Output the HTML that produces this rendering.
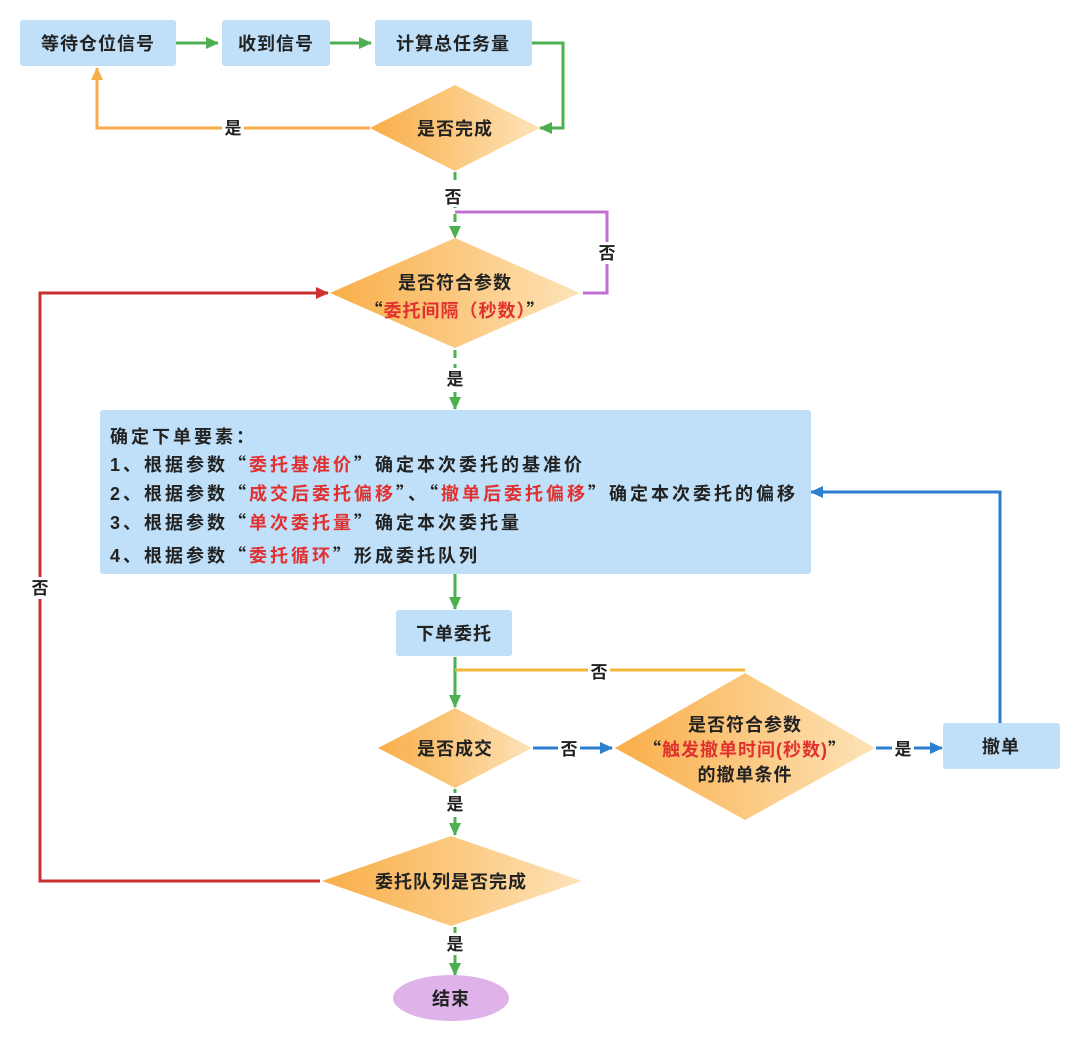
<!DOCTYPE html>
<html><head><meta charset="utf-8"><style>
body{margin:0;background:#fff;}
text{font-family:"Liberation Sans","Noto Sans CJK SC",sans-serif;font-weight:bold;fill:#222;}
.q{font-family:"Noto Sans CJK SC",sans-serif;}
</style></head><body>
<svg width="1080" height="1042" viewBox="0 0 1080 1042" xmlns="http://www.w3.org/2000/svg">
<defs>
<linearGradient id="g" x1="0" y1="0" x2="1" y2="0"><stop offset="0" stop-color="#f9ae48"/><stop offset="1" stop-color="#fde3b8"/></linearGradient>
<marker id="ag" markerWidth="13" markerHeight="12" refX="12" refY="6" orient="auto" markerUnits="userSpaceOnUse"><path d="M0,0L13,6L0,12z" fill="#4caf50"/></marker>
<marker id="ao" markerWidth="13" markerHeight="12" refX="12" refY="6" orient="auto" markerUnits="userSpaceOnUse"><path d="M0,0L13,6L0,12z" fill="#f5ae4a"/></marker>
<marker id="ar" markerWidth="13" markerHeight="12" refX="12" refY="6" orient="auto" markerUnits="userSpaceOnUse"><path d="M0,0L13,6L0,12z" fill="#d03030"/></marker>
<marker id="ab" markerWidth="13" markerHeight="12" refX="12" refY="6" orient="auto" markerUnits="userSpaceOnUse"><path d="M0,0L13,6L0,12z" fill="#2a7fd0"/></marker>
</defs>
<g fill="none" stroke-width="3">
<path d="M176,43H218" stroke="#4caf50" marker-end="url(#ag)"/>
<path d="M330,43H371" stroke="#4caf50" marker-end="url(#ag)"/>
<path d="M532,43H563V128H540" stroke="#4caf50" marker-end="url(#ag)"/>
<path d="M370,128H97V68" stroke="#f5ae4a" marker-end="url(#ao)"/>
<path d="M455,172V238" stroke="#4caf50" stroke-dasharray="8,6" marker-end="url(#ag)"/>
<path d="M583,293H607V212H455" stroke="#c070d0"/>
<path d="M320,881H40V293H328" stroke="#c83030" marker-end="url(#ar)"/>
<path d="M455,350V409" stroke="#4caf50" stroke-dasharray="8,6" marker-end="url(#ag)"/>
<path d="M455,574V609" stroke="#4caf50" marker-end="url(#ag)"/>
<path d="M455,657V707" stroke="#4caf50" marker-end="url(#ag)"/>
<path d="M455,670H745" stroke="#f5b53a"/>
<path d="M533,748H612" stroke="#2a7fd0" marker-end="url(#ab)"/>
<path d="M876,748H942" stroke="#2a7fd0" marker-end="url(#ab)"/>
<path d="M1000,723V492H811" stroke="#2a7fd0" marker-end="url(#ab)"/>
<path d="M455,789V835" stroke="#4caf50" stroke-dasharray="8,6" marker-end="url(#ag)"/>
<path d="M455,927V975" stroke="#4caf50" stroke-dasharray="8,6" marker-end="url(#ag)"/>
</g>
<g fill="#bfe0f8">
<rect x="20" y="20" width="156" height="46" rx="3"/>
<rect x="222" y="20" width="108" height="46" rx="3"/>
<rect x="375" y="20" width="157" height="46" rx="3"/>
<rect x="100" y="410" width="711" height="164" rx="3"/>
<rect x="396" y="610" width="116" height="46" rx="3"/>
<rect x="943" y="723" width="117" height="46" rx="3"/>
</g>
<g fill="url(#g)">
<path d="M370,128L455,85L540,128L455,171z"/>
<path d="M330,293L455,238L580,293L455,348z"/>
<path d="M378,748L455,708L532,748L455,788z"/>
<path d="M615,748L745,673L875,748L745,820z"/>
<path d="M322,881L451,836L582,881L451,926z"/>
</g>
<ellipse cx="451" cy="998" rx="58" ry="23" fill="#dfb2ea"/>
<g font-size="17">
<rect x="222" y="117" width="22" height="22" fill="#fff"/><text x="233" y="134" text-anchor="middle">是</text>
<rect x="442" y="185" width="22" height="22" fill="#fff"/><text x="453" y="203" text-anchor="middle">否</text>
<rect x="597" y="242" width="22" height="22" fill="#fff"/><text x="607" y="259" text-anchor="middle">否</text>
<rect x="29" y="577" width="22" height="22" fill="#fff"/><text x="40" y="594" text-anchor="middle">否</text>
<rect x="444" y="368" width="22" height="22" fill="#fff"/><text x="455" y="385" text-anchor="middle">是</text>
<rect x="588" y="660" width="22" height="22" fill="#fff"/><text x="599" y="678" text-anchor="middle">否</text>
<rect x="558" y="738" width="22" height="22" fill="#fff"/><text x="569" y="755" text-anchor="middle">否</text>
<rect x="892" y="738" width="22" height="22" fill="#fff"/><text x="903" y="755" text-anchor="middle">是</text>
<rect x="444" y="793" width="22" height="22" fill="#fff"/><text x="455" y="810" text-anchor="middle">是</text>
<rect x="444" y="933" width="22" height="22" fill="#fff"/><text x="455" y="950" text-anchor="middle">是</text>
</g>
<g font-size="18" text-anchor="middle" letter-spacing="1">
<text x="98" y="50">等待仓位信号</text>
<text x="276" y="50">收到信号</text>
<text x="453" y="50">计算总任务量</text>
<text x="455" y="135">是否完成</text>
<text x="455" y="289">是否符合参数</text>
<text x="455" y="317"><tspan class="q">“</tspan><tspan fill="#e03030">委托间隔（秒数）</tspan><tspan class="q">”</tspan></text>
<text x="454" y="640">下单委托</text>
<text x="455" y="755">是否成交</text>
<text x="745" y="731">是否符合参数</text>
<text x="745" y="756"><tspan class="q">“</tspan><tspan fill="#e03030">触发撤单时间(秒数)</tspan><tspan class="q">”</tspan></text>
<text x="745" y="781">的撤单条件</text>
<text x="1001" y="753">撤单</text>
<text x="451" y="888">委托队列是否完成</text>
<text x="451" y="1005">结束</text>
</g>
<g font-size="18" letter-spacing="3">
<text x="110" y="443">确定下单要素：</text>
<text x="110" y="471">1、根据参数<tspan class="q">“</tspan><tspan fill="#e03030">委托基准价</tspan><tspan class="q">”</tspan>确定本次委托的基准价</text>
<text x="110" y="500">2、根据参数<tspan class="q">“</tspan><tspan fill="#e03030">成交后委托偏移</tspan><tspan class="q">”</tspan>、<tspan class="q">“</tspan><tspan fill="#e03030">撤单后委托偏移</tspan><tspan class="q">”</tspan>确定本次委托的偏移</text>
<text x="110" y="529">3、根据参数<tspan class="q">“</tspan><tspan fill="#e03030">单次委托量</tspan><tspan class="q">”</tspan>确定本次委托量</text>
<text x="110" y="562">4、根据参数<tspan class="q">“</tspan><tspan fill="#e03030">委托循环</tspan><tspan class="q">”</tspan>形成委托队列</text>
</g>
</svg>
</body></html>
